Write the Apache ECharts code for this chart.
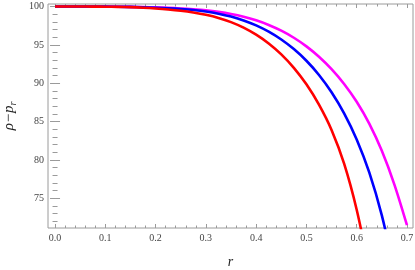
<!DOCTYPE html>
<html>
<head>
<meta charset="utf-8">
<script src="https://cdn.jsdelivr.net/npm/echarts@6/dist/echarts.min.js"></script>
<style>
html,body{margin:0;padding:0;background:#fff;}
#chart{width:415px;height:270px;}
</style>
</head>
<body>
<div id="chart"></div>
<script>
// Data (r from 0 to 0.7 in steps of 0.025)
const rValues = [0, 0.025, 0.05, 0.075, 0.1, 0.125, 0.15, 0.175, 0.2, 0.225, 0.25, 0.275, 0.3, 0.325, 0.35,
  0.375, 0.4, 0.425, 0.45, 0.475, 0.5, 0.525, 0.55, 0.575, 0.6, 0.625, 0.65, 0.675, 0.7];
const redSeries = [100, 100, 100, 99.99, 99.98, 99.96, 99.92, 99.85, 99.75, 99.62, 99.45, 99.22, 98.92, 98.52, 97.97,
  97.25, 96.33, 95.18, 93.76, 92.01, 89.86, 87.21, 83.91, 79.51, 73.51, 65.7, null, null, null];
const blueSeries = [100, 100, 100, 100, 99.99, 99.97, 99.95, 99.91, 99.85, 99.77, 99.67, 99.54, 99.35, 99.07, 98.69,
  98.19, 97.54, 96.72, 95.7, 94.45, 92.93, 91.08, 88.83, 86.08, 82.68, 78.38, 72.78, 65.5, null];
const magentaSeries = [100, 100, 100, 100, 99.99, 99.98, 99.96, 99.93, 99.89, 99.83, 99.75, 99.64, 99.5, 99.3, 99.03,
  98.67, 98.2, 97.6, 96.85, 95.93, 94.81, 93.46, 91.84, 89.91, 87.59, 84.74, 81.19, 76.79, 71.49];

const xTickValues = [0, 0.1, 0.2, 0.3, 0.4, 0.5, 0.6, 0.7];
const xTickLabels = ['0.0', '0.1', '0.2', '0.3', '0.4', '0.5', '0.6', '0.7'];
const yTickValues = [75, 80, 85, 90, 95, 100];
const yTickLabels = ['75', '80', '85', '90', '95', '100'];

const xMin = -0.014, xMax = 0.712, yMin = 71.13, yMax = 100.33;

// minor ticks: 5 subdivisions per major interval
const xMinor = [];
for (let i = 0; i < xTickValues.length - 1; i++) {
  const a = xTickValues[i], b = xTickValues[i + 1];
  for (let k = 1; k < 5; k++) xMinor.push(a + (b - a) * k / 5);
}
const yMinor = [];
for (let v = 72; v < 100; v++) if (v % 5 !== 0) yMinor.push(v);

const frameColor = '#9a9a9a';
const labelFont = { fontFamily: 'Liberation Serif', fontSize: 10, color: '#444' };

function xAx(pos, ticks, len, withLabels) {
  const ax = {
    type: 'value', position: pos, min: xMin, max: xMax,
    axisLine: { show: false }, splitLine: { show: false },
    axisTick: { show: true, inside: true, length: len, customValues: ticks, lineStyle: { color: frameColor, width: 1 } },
    axisLabel: { show: false }
  };
  if (withLabels) {
    ax.axisLabel = Object.assign({ show: true, margin: 5, customValues: xTickValues,
      formatter: v => { const i = xTickValues.findIndex(t => Math.abs(t - v) < 1e-9); return i >= 0 ? xTickLabels[i] : ''; } }, labelFont);
    ax.name = 'r';
    ax.nameLocation = 'middle';
    ax.nameGap = 27;
    ax.nameTextStyle = { fontFamily: 'Liberation Serif', fontStyle: 'italic', fontSize: 14, color: '#222' };
  }
  return ax;
}
function yAx(pos, ticks, len, withLabels) {
  const ax = {
    type: 'value', position: pos, min: yMin, max: yMax,
    axisLine: { show: false }, splitLine: { show: false },
    axisTick: { show: true, inside: true, length: len, customValues: ticks, lineStyle: { color: frameColor, width: 1 } },
    axisLabel: { show: false }
  };
  if (withLabels) {
    ax.axisLabel = Object.assign({ show: true, margin: 4, customValues: yTickValues,
      formatter: v => { const i = yTickValues.findIndex(t => Math.abs(t - v) < 1e-9); return i >= 0 ? yTickLabels[i] : ''; } }, labelFont);
    ax.name = '{a|ρ−p}{b|r}';
    ax.nameLocation = 'middle';
    ax.nameGap = 29;
    ax.nameRotate = 90;
    ax.nameTextStyle = {
      rich: {
        a: { fontFamily: 'Liberation Serif', fontStyle: 'italic', fontSize: 15, color: '#222', lineHeight: 20 },
        b: { fontFamily: 'Liberation Serif', fontStyle: 'italic', fontSize: 10, color: '#222', lineHeight: 20, padding: [8, 0, 0, 0] }
      }
    };
  }
  return ax;
}

function pairs(ys) { return rValues.map((x, i) => [x, ys[i]]); }

const chart = echarts.init(document.getElementById('chart'), null, { renderer: 'canvas' });
chart.setOption({
  animation: false,
  backgroundColor: '#fff',
  grid: { left: 48, right: 2, top: 4, bottom: 42, show: true, borderColor: frameColor, borderWidth: 1, backgroundColor: 'transparent',
    containLabel: false, outerBoundsMode: 'none' },
  xAxis: [
    xAx('bottom', xTickValues, 4, true),
    xAx('bottom', xMinor, 2.5, false),
    xAx('top', xTickValues, 4, false),
    xAx('top', xMinor, 2.5, false)
  ],
  yAxis: [
    yAx('left', yTickValues, 5, true),
    yAx('left', yMinor, 2.5, false),
    yAx('right', yTickValues, 5, false),
    yAx('right', yMinor, 2.5, false)
  ],
  series: [
    { type: 'line', name: 'magenta', data: pairs(magentaSeries), showSymbol: false, smooth: 0.3, clip: true,
      lineStyle: { color: '#ff00ff', width: 2.6 }, xAxisIndex: 0, yAxisIndex: 0 },
    { type: 'line', name: 'blue', data: pairs(blueSeries), showSymbol: false, smooth: 0.3, clip: true,
      lineStyle: { color: '#0000ff', width: 2.6 }, xAxisIndex: 0, yAxisIndex: 0 },
    { type: 'line', name: 'red', data: pairs(redSeries), showSymbol: false, smooth: 0.3, clip: true,
      lineStyle: { color: '#ff0000', width: 2.6 }, xAxisIndex: 0, yAxisIndex: 0 }
  ]
});
</script>
</body>
</html>
